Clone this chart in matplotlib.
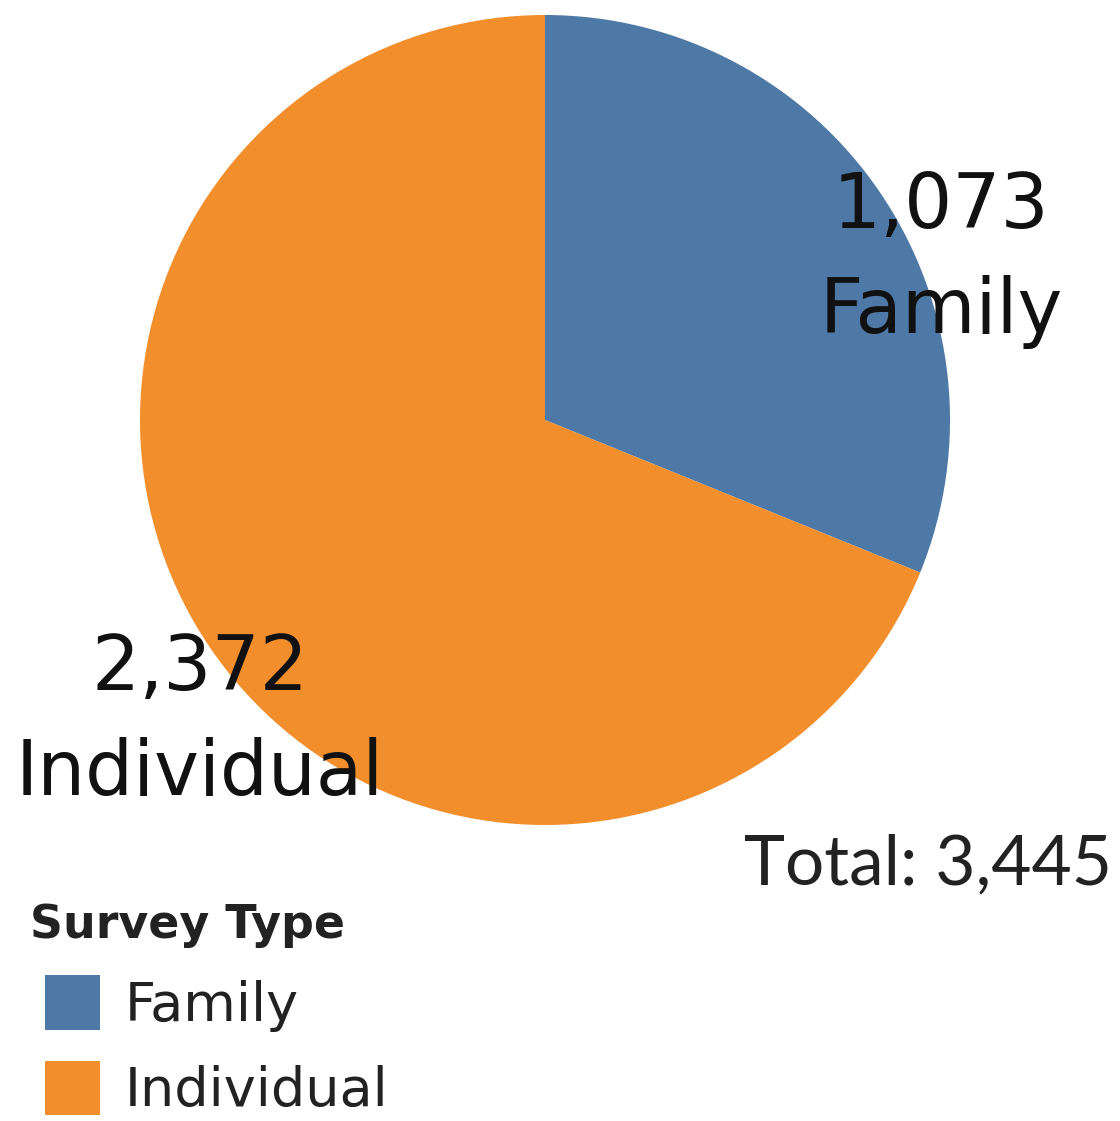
import matplotlib
matplotlib.use('Agg')
import matplotlib.pyplot as plt

categories = ['Family', 'Individual']
counts = [1073, 2372]
colors = ['#4e79a7', '#f28e2b']
legend_title = 'Survey Type'
total = sum(counts)

W, H = 1120, 1121
fig = plt.figure(figsize=(W / 100, H / 100), dpi=100)
ax = fig.add_axes([0, 0, 1, 1])

wedges, _ = ax.pie(counts, colors=colors, startangle=90, counterclock=False,
                   center=(545, H - 420), radius=405,
                   wedgeprops=dict(linewidth=0), frame=True)
ax.set_xlim(0, W)
ax.set_ylim(0, H)
ax.axis('off')

# slice labels (value + category), positions in pixel coords (y from top)
label_pos = [(941, 228, 333), (200, 690, 795)]
for i, (x, yv, yc) in enumerate(label_pos):
    ax.text(x, H - yv, f"{counts[i]:,}", fontsize=54.5, ha='center', va='baseline',
            color='#111111', family='DejaVu Sans')
    ax.text(x, H - yc, categories[i], fontsize=54.5, ha='center', va='baseline',
            color='#111111', family='DejaVu Sans')

ax.text(1112, H - 885, f"Total: {total:,}", fontsize=50, ha='right', va='baseline',
        color='#222222', family='Lato')

# legend title
ax.text(30, H - 938, legend_title, fontsize=33, weight='bold', ha='left',
        va='baseline', color='#222222', family='DejaVu Sans')

leg = ax.legend(wedges, categories, loc='upper left',
                bbox_to_anchor=(45 / W, 1 - 975 / H), frameon=False,
                fontsize=39,
                handlelength=1.02, handleheight=1.185, handletextpad=0.46,
                labelspacing=0.53, borderpad=0, borderaxespad=0)
for t in leg.get_texts():
    t.set_color('#222222')

fig.savefig('out.png', dpi=100)
